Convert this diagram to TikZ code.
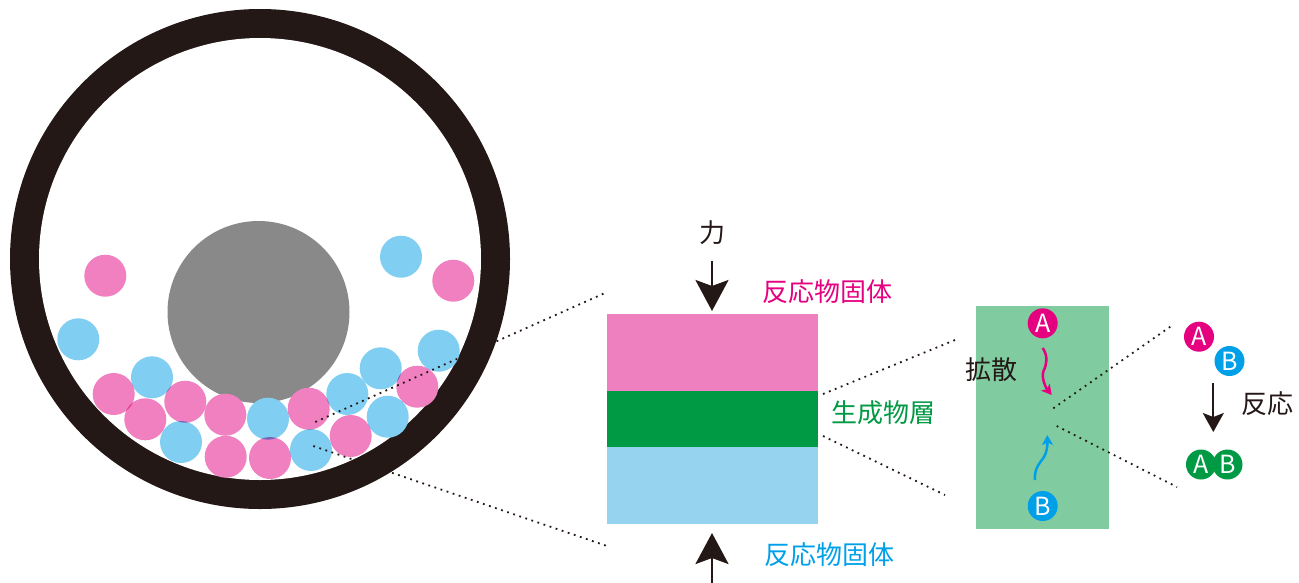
\documentclass[tikz,border=0pt]{standalone}
\usepackage{fontspec}
\newfontfamily\jp{Noto Sans CJK JP}
\usetikzlibrary{arrows.meta}

\definecolor{ringc}{HTML}{231815}
\definecolor{coregray}{HTML}{898989}
\definecolor{ballpink}{HTML}{F080C0}
\definecolor{ballblue}{HTML}{80CEF2}
\definecolor{layerpink}{HTML}{EF80BF}
\definecolor{layergreen}{HTML}{009A44}
\definecolor{layerblue}{HTML}{96D3EE}
\definecolor{zonegreen}{HTML}{80CBA0}
\definecolor{magentac}{HTML}{E4007F}
\definecolor{cyanc}{HTML}{00A0E9}
\definecolor{greenc}{HTML}{009944}

\tikzset{
  pinkball/.style={fill=ballpink},
  blueball/.style={fill=ballblue},
  zoomline/.style={draw=ringc, line width=1.8pt, dash pattern=on 1.8pt off 4.6pt},
  label/.style={font=\jp\fontsize{26}{30}\selectfont, inner sep=0pt},
  bigarrow/.style={draw=ringc, line width=2.7pt, -{Stealth[length=31pt,width=33pt,inset=6pt]}},
  smallarrow/.style={draw=ringc, line width=2pt, -{Stealth[length=19pt,width=21pt,inset=4pt]}},
  wavyarrow/.style={line width=2.5pt, -{Stealth[length=10pt,width=11pt,inset=2.5pt]}},
  atom/.style={circle, minimum size=30pt, inner sep=0pt, text=white,
               font=\jp\fontsize{25}{25}\selectfont},
}

\begin{document}
\begin{tikzpicture}[x=1pt,y=-1pt]
\useasboundingbox (0,0) rectangle (1299,582);

% ---- mill pot with grinding ball and powder ----
\fill[ringc] (260,259) circle[radius=250pt];
\fill[white] (260,259) circle[radius=221pt];
\fill[coregray] (258.5,312) circle[radius=91pt];

\begin{scope}[blend group=multiply]
  \foreach \x/\y in {105.3/275.7, 453.3/280.7, 417.3/386.7, 350.7/436,
                     308.7/408.7, 270/458, 225.7/456.7, 225.3/414.7,
                     185.3/401.7, 145.3/419.3, 113.7/394}
    \fill[pinkball] (\x,\y) circle[radius=21pt];
  \foreach \x/\y in {78.3/339.3, 401/256.7, 438.7/350.7, 380.7/368.3,
                     347.3/394, 387.7/416.7, 311/450, 268/418.7,
                     181/442, 152/377.3}
    \fill[blueball] (\x,\y) circle[radius=21pt];
\end{scope}

% ---- layered contact: reactant / product / reactant ----
\fill[layerpink]  (607,314) rectangle (818,391);
\fill[layergreen] (607,391) rectangle (818,447);
\fill[layerblue]  (607,447) rectangle (818,523.5);
\coordinate (layerR1) at (823,394);
\coordinate (layerR2) at (823,436);

\node[label, text=ringc] (force) at (712,233) {力};
\coordinate (forceStart) at (712,261);
\coordinate (forceTip) at (712,311);
\draw[bigarrow] (forceStart) -- (forceTip);
\coordinate (pushStart) at (712,600);
\coordinate (pushTip) at (712,533);
\draw[bigarrow] (pushStart) -- (pushTip);

\node[label, text=magentac, anchor=west] (topsolid) at (762,292) {反応物固体};
\node[label, text=greenc, anchor=west] (product) at (831,413) {生成物層};
\node[label, text=cyanc, anchor=west] (botsolid) at (764,555) {反応物固体};

% ---- diffusion zone ----
\fill[zonegreen] (976,306) rectangle (1109,528.5);
\node[label, text=ringc, anchor=west] (diffusion) at (965,370) {拡散};
\node[atom, fill=magentac] (zA) at (1042.7,323.3) {A};
\node[atom, fill=cyanc] (zB) at (1042.7,506) {B};
\draw[wavyarrow, magentac] (1042.7,348) .. controls (1048,356) and (1047,364) .. (1043.5,371)
      .. controls (1041,378) and (1046,388) .. (1051.7,395);
\draw[wavyarrow, cyanc] (1035,480) .. controls (1034,468) and (1040,463) .. (1044,457)
      .. controls (1047,452) and (1047.5,445) .. (1047.3,435);
\coordinate (zoneUp) at (1053.3,408.3);
\coordinate (zoneDn) at (1056.7,426);

% ---- reaction A + B -> AB ----
\node[atom, fill=magentac] (rA) at (1199,336.7) {A};
\node[atom, fill=cyanc] (rB) at (1229.5,361) {B};
\coordinate (reactStart) at (1213.3,383.3);
\coordinate (reactTip) at (1213.3,432);
\draw[smallarrow] (reactStart) -- (reactTip);
\node[label, text=ringc, anchor=west] (reaction) at (1241,404) {反応};
\node[atom, fill=greenc] (pA) at (1201,464.5) {A};
\node[atom, fill=greenc] (pB) at (1227.5,464.5) {B};

% ---- zoom guides ----
\coordinate (millUp) at (315.3,422);
\coordinate (millDn) at (313.3,446);
\coordinate (guideUpEnd) at (605,293);
\coordinate (guideDnEnd) at (607,546);
\draw[zoomline] (millUp) -- (guideUpEnd);
\draw[zoomline] (millDn) -- (guideDnEnd);
\draw[zoomline] (layerR1) -- (955,340);
\draw[zoomline] (layerR2) -- (945,495);
\draw[zoomline] (zoneUp) -- (1172,325.5);
\draw[zoomline] (zoneDn) -- (1177,487);
\end{tikzpicture}
\end{document}
